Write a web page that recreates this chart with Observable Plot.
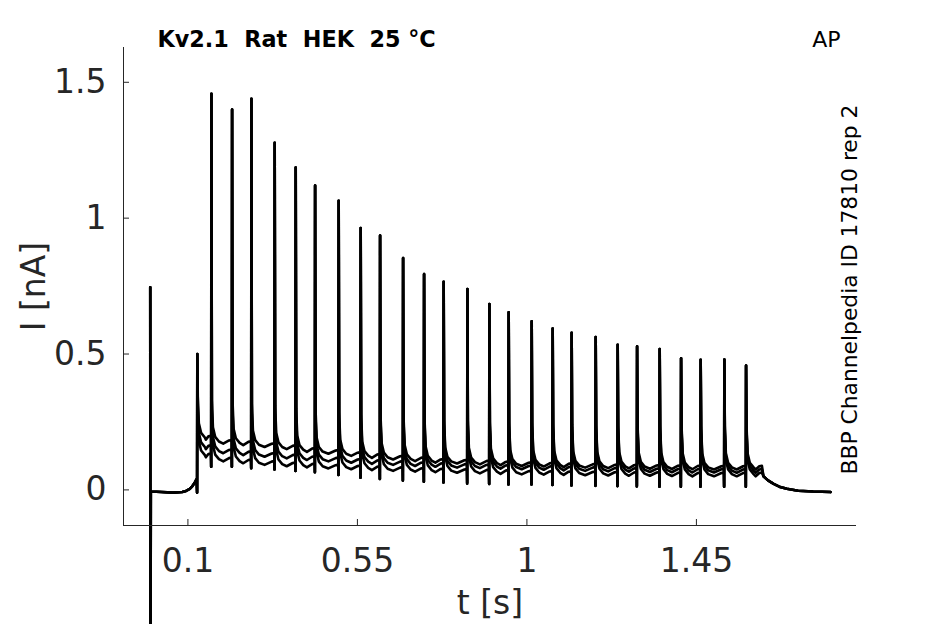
<!DOCTYPE html>
<html>
<head>
<meta charset="utf-8">
<script src="https://cdn.jsdelivr.net/npm/d3@7"></script>
<script src="https://cdn.jsdelivr.net/npm/@observablehq/plot@0.6"></script>
<style>
  html, body { margin: 0; padding: 0; background: #fff; }
</style>
</head>
<body>
<div id="chart"></div>
<script>
// ---- values ----
const xTicks = [0.1, 0.55, 1, 1.45];
const xTickLabels = ["0.1", "0.55", "1", "1.45"];
const yTicks = [0, 0.5, 1, 1.5];
const yTickLabels = ["0", "0.5", "1", "1.5"];
const xDomain = [-0.071, 1.875];
const yDomain = [-0.131, 1.628];

// stimulus artefact at t = 0
const artefactT = [0, 0.0006, 0.0015];
const artefactV = [0.746, -0.8, -0.006];

// pre-step baseline
const preT = [0.003, 0.03, 0.06, 0.085, 0.095, 0.105, 0.112, 0.118, 0.123];
const preV = [-0.006, -0.008, -0.01, -0.008, -0.004, 0.004, 0.014, 0.026, 0.04];

// spikes (step onset first)
const spikeT = [0.125, 0.1624, 0.2173, 0.2686, 0.3304, 0.3862, 0.4377, 0.5003, 0.5587, 0.6102,
  0.6713, 0.7270, 0.7790, 0.8420, 0.9004, 0.9516, 1.0127, 1.0684, 1.1188, 1.1826,
  1.2410, 1.2925, 1.3525, 1.4093, 1.4613, 1.5242, 1.5818];
const spikePeak = [0.50, 1.458, 1.40, 1.439, 1.277, 1.186, 1.12, 1.064, 0.964, 0.936,
  0.853, 0.794, 0.766, 0.739, 0.684, 0.654, 0.620, 0.594, 0.578, 0.5625,
  0.534, 0.528, 0.518, 0.484, 0.479, 0.480, 0.458];
const spikeNotch = [-0.01, 0.085, 0.085, 0.08, 0.075, 0.07, 0.065, 0.055, 0.045, 0.04,
  0.035, 0.03, 0.027, 0.024, 0.022, 0.02, 0.02, 0.018, 0.016, 0.015,
  0.014, 0.013, 0.012, 0.012, 0.012, 0.012, 0.012];

// inter-spike current level of each sweep (interval after each spike)
const sweepA = [0.185, 0.17, 0.165, 0.158, 0.15, 0.14, 0.133, 0.125, 0.118, 0.112, 0.106, 0.10, 0.097, 0.094,
  0.091, 0.088, 0.086, 0.084, 0.082, 0.08, 0.079, 0.078, 0.077, 0.076, 0.075, 0.075, 0.075];
const sweepB = [0.15, 0.135, 0.128, 0.122, 0.116, 0.11, 0.105, 0.10, 0.096, 0.092, 0.088, 0.085, 0.082, 0.08,
  0.078, 0.076, 0.074, 0.072, 0.07, 0.068, 0.067, 0.066, 0.065, 0.064, 0.064, 0.063, 0.063];
const sweepC = [0.12, 0.105, 0.098, 0.092, 0.087, 0.083, 0.079, 0.076, 0.073, 0.07, 0.067, 0.065, 0.063, 0.061,
  0.059, 0.057, 0.056, 0.055, 0.054, 0.053, 0.052, 0.052, 0.051, 0.05, 0.05, 0.05, 0.05];

// spike tail: time after spike and excess over level
const tailDt = [0.0012, 0.004, 0.01, 0.02];
const tailExcess = [0.16, 0.06, 0.025, 0.008];

// step end
const stepEndT = 1.625;
const postT = [1.628, 1.64, 1.655, 1.67, 1.69, 1.72, 1.76, 1.806];
const postV = [0.05, 0.035, 0.022, 0.012, 0.004, -0.003, -0.006, -0.008];

// ---- build the table ----
function buildSweep(level, s) {
  const rows = [];
  const push = (t, v) => rows.push({t, v, s});
  artefactT.forEach((t, i) => push(t, artefactV[i]));
  preT.forEach((t, i) => push(t, preV[i]));
  for (let k = 0; k < spikeT.length; k++) {
    const t = spikeT[k];
    const L = level[k];
    const next = k + 1 < spikeT.length ? spikeT[k + 1] : stepEndT;
    push(t - 0.0006, spikeNotch[k]);
    push(t, spikePeak[k]);
    tailDt.forEach((d, i) => push(t + d, L + tailExcess[i]));
    push((t + next) / 2 + 0.004, L);
    push(next - 0.008, L + 0.012);
    push(next - 0.0012, L + 0.014);
  }
  postT.forEach((t, i) => push(t, postV[i]));
  return rows;
}
const data = [
  ...buildSweep(sweepA, "A"),
  ...buildSweep(sweepB, "B"),
  ...buildSweep(sweepC, "C")
];

const ink = "#262626";
const chart = Plot.plot({
  width: 945,
  height: 624,
  marginLeft: 123,
  marginRight: 89,
  marginTop: 47,
  marginBottom: 99,
  style: {fontFamily: "DejaVu Sans", background: "#fff", color: ink, overflow: "visible"},
  x: {domain: xDomain},
  y: {domain: yDomain},
  marks: [
    Plot.line(data, {x: "t", y: "v", z: "s", stroke: "#000", strokeWidth: 2.6, strokeLinejoin: "round"}),
    Plot.ruleX([xDomain[0]], {stroke: ink, strokeWidth: 1}),
    Plot.ruleY([yDomain[0]], {stroke: ink, strokeWidth: 1}),
    Plot.axisX({ticks: xTicks, tickFormat: (d, i) => xTickLabels[i], tickSize: -6, tickPadding: 29,
      fontSize: 33, label: null, stroke: ink, fill: ink}),
    Plot.axisY({ticks: yTicks, tickFormat: (d, i) => yTickLabels[i], tickSize: -6, tickPadding: 23,
      fontSize: 33, label: null, stroke: ink, fill: ink}),
    Plot.text(["t [s]"], {frameAnchor: "bottom", textAnchor: "middle", lineAnchor: "middle", dy: 78, fontSize: 33, fill: ink}),
    Plot.text(["I [nA]"], {frameAnchor: "left", textAnchor: "middle", lineAnchor: "middle", rotate: -90, dx: -89, fontSize: 33, fill: ink}),
    Plot.text(["Kv2.1\u00a0 Rat\u00a0 HEK\u00a0 25 °C"], {frameAnchor: "top-left", textAnchor: "start", lineAnchor: "middle",
      dx: 34, dy: -8, fontSize: 22.3, fontWeight: "bold", fill: "#000"}),
    Plot.text(["AP"], {frameAnchor: "top-right", textAnchor: "end", lineAnchor: "middle",
      dx: -16, dy: -8, fontSize: 22, fill: "#000"}),
    Plot.text(["BBP Channelpedia ID 17810 rep 2"], {frameAnchor: "right", textAnchor: "middle", lineAnchor: "middle", rotate: -90,
      dx: -6, dy: 3, fontSize: 21.8, fill: "#000"})
  ]
});
document.getElementById("chart").appendChild(chart);
</script>
</body>
</html>
